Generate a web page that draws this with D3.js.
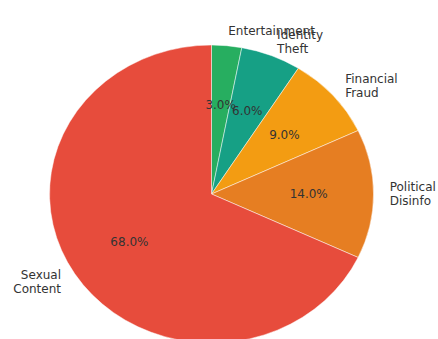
<!DOCTYPE html>
<html>
<head>
<meta charset="utf-8">
<script src="https://cdn.jsdelivr.net/npm/d3@7"></script>
<style>
  body { margin: 0; background: #fff; }
  text { font-family: "DejaVu Sans", sans-serif; fill: #333; }
</style>
</head>
<body>
<svg id="chart" width="438" height="339"></svg>
<script>
// data
const categories = ['Entertainment', 'Identity\nTheft', 'Financial\nFraud', 'Political\nDisinfo', 'Sexual\nContent'];
const shares = [3, 6, 9, 14, 68];
const colors = ['#27ae60', '#16a085', '#f39c12', '#e67e22', '#e74c3c'];

const svg = d3.select('#chart');
const cx = 211.5, cy = 194;
const rx = 162, ry = 149; // pie is drawn without equal aspect, so it is a bit squashed

// map unit-circle coords to the page
const x = d3.scaleLinear().domain([-1, 1]).range([cx - rx, cx + rx]);
const y = d3.scaleLinear().domain([-1, 1]).range([cy - ry, cy + ry]);

const pie = d3.pie().sort(null).value(d => d);
const arcs = pie(shares);
const arc = d3.arc().innerRadius(0).outerRadius(1);

const g = svg.append('g')
  .attr('transform', `translate(${cx},${cy}) scale(${rx},${ry})`);

g.selectAll('path')
  .data(arcs)
  .enter().append('path')
  .attr('d', arc)
  .attr('fill', (d, i) => colors[i])
  .attr('stroke', '#fff')
  .attr('stroke-width', 0.6)
  .attr('stroke-opacity', 0.8)
  .attr('vector-effect', 'non-scaling-stroke');

function mid(d) { return (d.startAngle + d.endAngle) / 2; }

// category labels at 1.1 radius
const lh = 14;
arcs.forEach((d, i) => {
  const a = mid(d);
  const ux = Math.sin(a) * 1.1, uy = -Math.cos(a) * 1.1;
  const lines = categories[i].split('\n');
  const t = svg.append('text')
    .attr('x', x(ux))
    .attr('y', y(uy))
    .attr('font-size', 12)
    .attr('text-anchor', ux > 0 ? 'start' : 'end')
    .attr('dominant-baseline', 'central');
  lines.forEach((s, k) => {
    t.append('tspan')
      .attr('x', x(ux))
      .attr('dy', k === 0 ? -(lines.length - 1) / 2 * lh : lh)
      .text(s);
  });
});

// percent labels at 0.6 radius
const total = d3.sum(shares);
svg.selectAll('.pct')
  .data(arcs)
  .enter().append('text')
  .attr('class', 'pct')
  .attr('x', d => x(Math.sin(mid(d)) * 0.6))
  .attr('y', d => y(-Math.cos(mid(d)) * 0.6))
  .attr('font-size', 12)
  .attr('text-anchor', 'middle')
  .attr('dominant-baseline', 'central')
  .text(d => (d.value / total * 100).toFixed(1) + '%');
</script>
</body>
</html>
